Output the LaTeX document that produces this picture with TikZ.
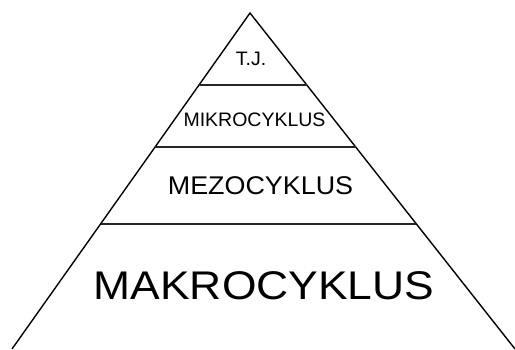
\documentclass[tikz,border=0pt]{standalone}
\usepackage{fontspec}
\setmainfont{Liberation Sans}
\usetikzlibrary{calc}
\begin{document}
\begin{tikzpicture}[x=1pt,y=-1pt,
  edge/.style={line width=1.4pt,black},
  level/.style={line width=1.8pt,black!85},
  lab/.style={inner sep=0pt,anchor=center}]
\useasboundingbox (0,0) rectangle (515,349);
\coordinate (A) at (250,13);
\coordinate (BL) at (12,349);
\coordinate (BR) at (515,349);
\draw[edge] (BL) -- (A) -- (BR);
\coordinate (L1) at ($(A)!0.2143!(BL)$);
\coordinate (R1) at ($(A)!0.2143!(BR)$);
\coordinate (L2) at ($(A)!0.3988!(BL)$);
\coordinate (R2) at ($(A)!0.3988!(BR)$);
\coordinate (L3) at ($(A)!0.628!(BL)$);
\coordinate (R3) at ($(A)!0.628!(BR)$);
\draw[level] (L1) -- (R1);
\draw[level] (L2) -- (R2);
\draw[level] (L3) -- (R3);
\node[lab] (tj) at (251,59) {\fontsize{19.5}{20}\selectfont\vphantom{T}T.J.};
\node[lab] (mikro) at (254.5,120) {\fontsize{19.5}{20}\selectfont MIKROCYKLUS};
\node[lab] (mezo) at (260.5,186) {\scalebox{1.05}[1]{\fontsize{25.6}{27}\selectfont MEZOCYKLUS}};
\node[lab] (makro) at (264,286) {\scalebox{1.11}[1]{\fontsize{40}{42}\selectfont MAKROCYKLUS}};
\end{tikzpicture}
\end{document}
